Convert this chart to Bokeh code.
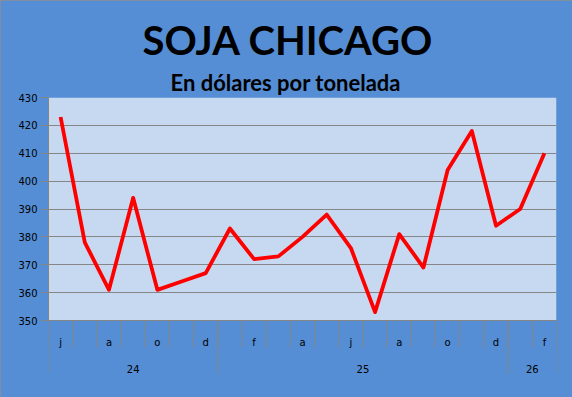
from bokeh.plotting import figure
from bokeh.models import Range1d, FixedTicker, BoxAnnotation, Title
from bokeh.core.properties import value
from bokeh.embed import file_html
from bokeh.resources import INLINE

# ---- data ----
month_labels = ["j", "j", "a", "s", "o", "n", "d",
                "e", "f", "m", "a", "m", "j", "j", "a", "s", "o", "n", "d",
                "e", "f"]
year_labels = ["24", "25", "26"]
months_per_year = [7, 12, 2]
prices = [423, 378, 361, 394, 361, 364, 367, 383, 372, 373, 380, 388, 376,
          353, 381, 369, 404, 418, 384, 390, 410]
y_ticks = [350, 360, 370, 380, 390, 400, 410, 420, 430]

# ---- colours / layout ----
OUTER = "#558ED5"
INNER = "#C6D9F1"
GRID = "#868686"
W, H = 572, 397
LEFT, RIGHT = 48, 556
TOP, BOTTOM_PLOT = 97, 320          # pixel rows of 430 and 350
Y_MIN, Y_MAX = y_ticks[0], y_ticks[-1]
PX_PER_UNIT = (BOTTOM_PLOT - TOP) / (Y_MAX - Y_MIN)
FRAME_BOTTOM = 374
n = len(prices)


def py(pixel_row):
    """pixel row -> y data value (decoration placement only)"""
    return Y_MAX - (pixel_row - TOP) / PX_PER_UNIT


p = figure(width=W, height=H, output_backend="svg", toolbar_location=None,
           title=None, x_axis_location=None,
           x_range=Range1d(-0.5, n - 0.5),
           y_range=Range1d(py(FRAME_BOTTOM), Y_MAX),
           min_border_left=LEFT, min_border_right=W - RIGHT,
           min_border_top=TOP, min_border_bottom=H - FRAME_BOTTOM,
           outline_line_color=None)
p.background_fill_color = OUTER
p.border_fill_color = OUTER
p.outline_line_color = None
p.styles = {"background-color": OUTER,
            "outline": "1px solid #8E8E8E", "outline-offset": "-1px"}

# titles (first added is closest to the frame); left-aligned + offset so
# that they are centred on the canvas rather than on the frame
p.add_layout(Title(text="En dólares por tonelada", text_font="Lato",
                   text_font_style="bold", text_font_size="22px",
                   text_color="#000000", align="left", offset=122,
                   standoff=4), "above")
p.add_layout(Title(text="SOJA CHICAGO", text_font="Lato",
                   text_font_style="bold", text_font_size="40px",
                   text_color="#000000", align="left", offset=94,
                   standoff=2), "above")

# plot area (light) drawn first, under the grid
plot_area = BoxAnnotation(top=Y_MAX, bottom=Y_MIN, fill_color=INNER,
                          fill_alpha=1, line_color=None, line_alpha=0,
                          line_width=0, level="underlay")
p.center = [plot_area] + list(p.center)

# y axis and grid
p.yaxis.ticker = FixedTicker(ticks=y_ticks)
p.yaxis.bounds = (Y_MIN, Y_MAX)
p.yaxis.axis_line_color = GRID
p.yaxis.major_tick_line_color = GRID
p.yaxis.major_tick_out = 8
p.yaxis.major_tick_in = 0
p.yaxis.minor_tick_line_color = None
p.yaxis.major_label_standoff = 3
p.yaxis.major_label_text_font = "DejaVu Sans"
p.yaxis.major_label_text_font_size = "10px"
p.yaxis.major_label_text_color = "#000000"
p.ygrid.bounds = (Y_MIN, Y_MAX)
p.ygrid.grid_line_color = GRID
p.ygrid.grid_line_width = 1
p.xgrid.visible = False

# category axis drawn by hand
bounds_x = [i - 0.5 for i in range(n + 1)]
p.segment(x0=bounds_x, y0=[Y_MIN] * len(bounds_x), x1=bounds_x,
          y1=[py(347)] * len(bounds_x), line_color=GRID, line_width=1)
year_edges = [-0.5]
for c in months_per_year:
    year_edges.append(year_edges[-1] + c)
p.segment(x0=year_edges, y0=[Y_MIN] * len(year_edges), x1=year_edges,
          y1=[py(373)] * len(year_edges), line_color=GRID, line_width=1)
p.segment(x0=[-0.5], y0=[Y_MIN], x1=[n - 0.5], y1=[Y_MIN],
          line_color=GRID, line_width=1)

shown_x = [i for i in range(n) if i % 2 == 0]
shown_t = [month_labels[i] for i in shown_x]
p.text(x=shown_x, y=[py(342)] * len(shown_x), text=shown_t,
       text_font=value("DejaVu Sans"), text_font_size=value("10px"),
       text_color="#000000", text_align="center", text_baseline="alphabetic")
year_mid = [(year_edges[i] + year_edges[i + 1]) / 2 for i in range(len(year_labels))]
p.text(x=year_mid, y=[py(368)] * len(year_mid), text=year_labels,
       text_font=value("DejaVu Sans"), text_font_size=value("10px"),
       text_color="#000000", text_align="center", text_baseline="alphabetic")

# the series
p.line(x=list(range(n)), y=prices, line_color="#FF0000", line_width=3.8,
       line_join="round")

open("out.html", "w").write(file_html(p, INLINE))
